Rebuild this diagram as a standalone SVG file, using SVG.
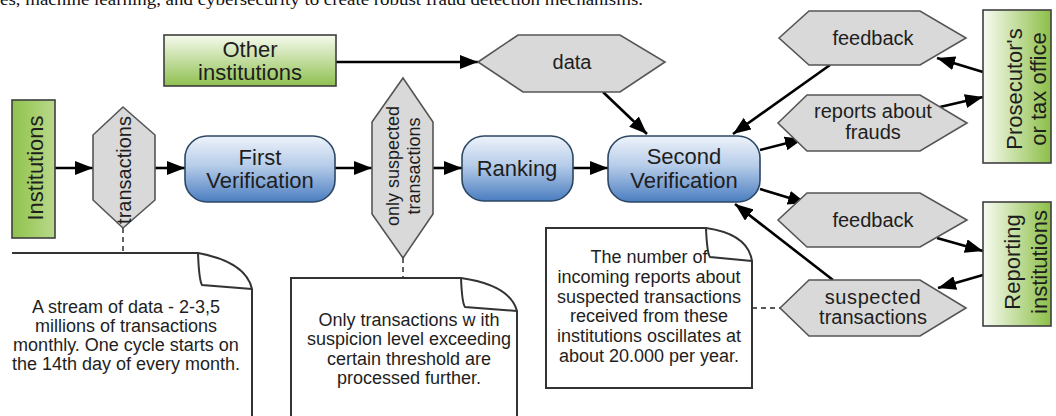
<svg xmlns="http://www.w3.org/2000/svg" width="1056" height="416" viewBox="0 0 1056 416">
<defs>
<linearGradient id="gBlue" x1="0" y1="0" x2="0" y2="1">
<stop offset="0" stop-color="#eef3fa"/>
<stop offset="0.45" stop-color="#b6cce9"/>
<stop offset="1" stop-color="#4a7dc0"/>
</linearGradient>
<linearGradient id="gGreenV" x1="0" y1="0" x2="0" y2="1">
<stop offset="0" stop-color="#f6faee"/>
<stop offset="1" stop-color="#8fc050"/>
</linearGradient>
<linearGradient id="gGreenH" x1="0" y1="0" x2="1" y2="0">
<stop offset="0" stop-color="#f8fbf1"/>
<stop offset="1" stop-color="#8cbf48"/>
</linearGradient>
<linearGradient id="gGreenL" x1="0" y1="0" x2="1" y2="0">
<stop offset="0" stop-color="#8fc24f"/>
<stop offset="0.6" stop-color="#a9d070"/>
<stop offset="1" stop-color="#b9d98c"/>
</linearGradient>
<marker id="arr" viewBox="0 0 18 14" refX="18" refY="7" markerWidth="18" markerHeight="14" markerUnits="userSpaceOnUse" orient="auto">
<path d="M0,0 L18,7 L0,14 Z" fill="#000"/>
</marker>
</defs>
<style>
.t{font-family:"Liberation Sans",Arial,sans-serif;fill:#1e1e1e;text-anchor:middle}
.hex{fill:#d9d9d9;stroke:#555;stroke-width:1.6}
.blue{fill:url(#gBlue);stroke:#2c4763;stroke-width:1.6}
.grn{stroke:#3f3f3f;stroke-width:1.6}
.note{fill:#fff;stroke:#333;stroke-width:2}
.fold{fill:none;stroke:#333;stroke-width:2}
.c{fill:none;stroke:#000;stroke-width:2.6;marker-end:url(#arr)}
.d{fill:none;stroke:#222;stroke-width:1.4;stroke-dasharray:5 4}
.b{font-size:22px}
.h{font-size:20px}
.n{font-size:18px}
</style>
<rect width="1056" height="416" fill="#fff"/>
<text x="0" y="4.5" font-family="Liberation Serif, Times New Roman, serif" font-size="17" fill="#111" textLength="643" lengthAdjust="spacingAndGlyphs">es, machine learning, and cybersecurity to create robust fraud detection mechanisms.</text>

<g id="connectors">
<line class="c" x1="55" y1="168" x2="93" y2="168"/>
<line class="c" x1="155" y1="168" x2="185" y2="168"/>
<line class="c" x1="335" y1="168" x2="372" y2="168"/>
<line class="c" x1="433" y1="168" x2="462" y2="168"/>
<line class="c" x1="573" y1="168" x2="608" y2="168"/>
<line class="c" x1="336" y1="62" x2="478" y2="62"/>
<line class="c" x1="603" y1="92" x2="647" y2="134"/>
<line class="c" x1="983" y1="72" x2="937" y2="58"/>
<line class="c" x1="830" y1="65" x2="733" y2="134"/>
<line class="c" x1="760" y1="150" x2="803" y2="139"/>
<line class="c" x1="940" y1="107" x2="983" y2="97"/>
<line class="c" x1="760" y1="189" x2="806" y2="203"/>
<line class="c" x1="937" y1="238" x2="983" y2="251"/>
<line class="c" x1="983" y1="275" x2="938" y2="288"/>
<line class="c" x1="833" y1="280" x2="735" y2="204"/>
<line class="d" x1="123" y1="228" x2="123" y2="253"/>
<line class="d" x1="403" y1="258" x2="403" y2="278"/>
<line class="d" x1="752" y1="308" x2="780" y2="308"/>
</g>

<g id="other-institutions">
<rect class="grn" x="164" y="35" width="172" height="51" fill="url(#gGreenV)"/>
<text class="t b" x="250" y="57">Other</text>
<text class="t b" x="250" y="80">institutions</text>
</g>

<g id="data">
<polygon class="hex" points="478,62 518,35 620,35 665,62 620,92 523,92"/>
<text class="t h" x="572" y="69">data</text>
</g>

<g id="institutions">
<rect class="grn" x="12" y="100" width="43" height="138" fill="url(#gGreenL)"/>
<text class="t b" x="35" y="168" dominant-baseline="central" transform="rotate(-90 35 168)">Institutions</text>
</g>

<g id="transactions">
<polygon class="hex" points="123,107 155,135 155,200 123,228 93,200 93,135"/>
<text class="t h" x="124" y="170" dominant-baseline="central" transform="rotate(-90 124 170)">transactions</text>
</g>

<g id="first-verification">
<rect class="blue" x="185" y="136" width="150" height="66" rx="22"/>
<text class="t b" x="260" y="165">First</text>
<text class="t b" x="260" y="188">Verification</text>
</g>

<g id="only-suspected">
<polygon class="hex" points="403,78 433,122 433,214 403,258 372,214 372,122"/>
<text class="t n" x="393" y="166" dominant-baseline="central" transform="rotate(-90 393 166)">only suspected</text>
<text class="t n" x="414" y="166" dominant-baseline="central" transform="rotate(-90 414 166)">transactions</text>
</g>

<g id="ranking">
<rect class="blue" x="462" y="136" width="111" height="65" rx="22"/>
<text class="t b" x="517" y="176">Ranking</text>
</g>

<g id="second-verification">
<rect class="blue" x="608" y="136" width="152" height="66" rx="22"/>
<text class="t b" x="684" y="164">Second</text>
<text class="t b" x="684" y="188">Verification</text>
</g>

<g id="feedback-top">
<polygon class="hex" points="779,38 809,11 920,11 966,38 920,65 809,65"/>
<text class="t h" x="873" y="45">feedback</text>
</g>

<g id="reports-about-frauds">
<polygon class="hex" points="778,123 807,95 920,95 967,123 920,151 807,151"/>
<text class="t h" x="873" y="118">reports about</text>
<text class="t h" x="873" y="139">frauds</text>
</g>

<g id="feedback-bottom">
<polygon class="hex" points="778,220 807,193 920,193 967,220 920,247 807,247"/>
<text class="t h" x="873" y="227">feedback</text>
</g>

<g id="suspected-transactions">
<polygon class="hex" points="780,308 809,280 920,280 966,308 920,336 809,336"/>
<text class="t h" x="873" y="304" letter-spacing="0.6">suspected</text>
<text class="t h" x="873" y="324">transactions</text>
</g>

<g id="prosecutor">
<rect class="grn" x="983" y="10" width="68" height="153" fill="url(#gGreenH)"/>
<text class="t b" x="1014" y="89" dominant-baseline="central" transform="rotate(-90 1014 89)">Prosecutor's</text>
<text class="t b" x="1038" y="89" dominant-baseline="central" transform="rotate(-90 1038 89)">or tax office</text>
</g>

<g id="reporting-institutions">
<rect class="grn" x="983" y="202" width="68" height="124" fill="url(#gGreenH)"/>
<text class="t b" x="1012" y="262" dominant-baseline="central" transform="rotate(-90 1012 262)">Reporting</text>
<text class="t b" x="1039" y="262" dominant-baseline="central" transform="rotate(-90 1039 262)">institutions</text>
</g>

<g id="note-stream">
<path class="note" d="M12,253 L198,253 Q246,262 252,289 L252,420"/>
<path class="fold" d="M198,253 Q199,280 202,285 L252,289"/>
<text class="t n" x="126" y="313">A stream of data - 2-3,5</text>
<text class="t n" x="126" y="332">millions of transactions</text>
<text class="t n" x="126" y="351">monthly. One cycle starts on</text>
<text class="t n" x="126" y="370">the 14th day of every month.</text>
</g>

<g id="note-threshold">
<path class="note" d="M291,420 L291,278 L461,278 Q510,285 517,311 L517,420"/>
<path class="fold" d="M461,278 Q462,303 465,307 L517,311"/>
<text class="t n" x="409" y="326">Only transactions w ith</text>
<text class="t n" x="409" y="345">suspicion level exceeding</text>
<text class="t n" x="409" y="365">certain threshold are</text>
<text class="t n" x="409" y="384">processed further.</text>
</g>

<g id="note-reports">
<path class="note" d="M546,228 L706,228 Q748,234 752,261 L752,388 L546,388 Z"/>
<path class="fold" d="M706,228 Q707,253 710,257 L752,261"/>
<text class="t n" x="649" y="263">The number of</text>
<text class="t n" x="649" y="283">incoming reports about</text>
<text class="t n" x="649" y="303">suspected transactions</text>
<text class="t n" x="649" y="322">received from these</text>
<text class="t n" x="649" y="342">institutions oscillates at</text>
<text class="t n" x="649" y="362">about 20.000 per year.</text>
</g>
</svg>
